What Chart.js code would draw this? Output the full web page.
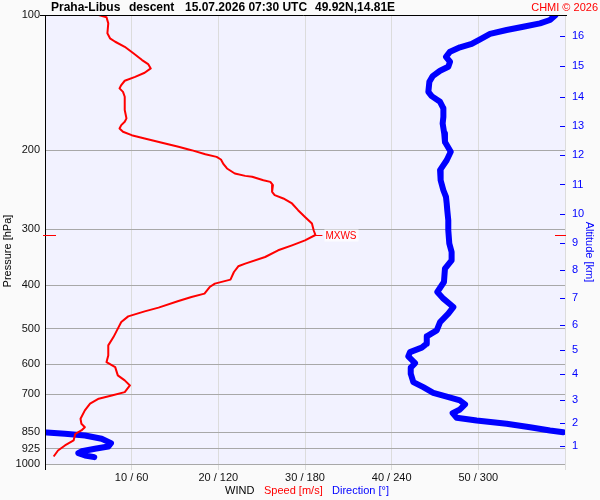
<!DOCTYPE html>
<html><head><meta charset="utf-8">
<script src="https://cdn.jsdelivr.net/npm/chart.js@4/dist/chart.umd.min.js"></script>
<style>html,body{margin:0;padding:0;background:#fafafa;}canvas{display:block;}</style>
</head><body>
<canvas id="c" width="600" height="500"></canvas>
<script>
// ---- data ----
const pressureTicks = [100, 200, 300, 400, 500, 600, 700, 850, 925, 1000];
const speedTicks = [0, 10, 20, 30, 40, 50, 60];
const altitudeKm = [1, 2, 3, 4, 5, 6, 7, 8, 9, 10, 11, 12, 13, 14, 15, 16];
const altitudePressure = [912.8, 811, 719.3, 631.6, 556.5, 489.4, 426.9, 369, 322.4, 277.3, 238.5, 205.2, 176.5, 152.1, 130, 111.4];

const speedPressure = [100, 101.2, 104.4, 109.8, 112.7, 114.7, 117.7, 121.7, 126.0, 128.6, 131.5, 134.5, 137.3, 140.1, 143.2, 145.7, 148.3, 152.1, 162.8, 169.9, 172.9, 175.9, 178.9, 182.0, 185.2, 188.3, 192.6, 196.6, 200, 204.2, 207.0, 209.8, 214.9, 219.7, 225.4, 228.2, 229.3, 233.3, 235.3, 239.3, 247.7, 251.9, 256.2, 262.9, 272.1, 281.7, 291.3, 301.6, 309, 317.6, 325.8, 334.2, 345.9, 357.8, 362.8, 373.6, 388.5, 396.5, 403.5, 417.4, 424.8, 433.5, 448.4, 457.1, 469.0, 482.9, 503.9, 521.6, 544.3, 573.0, 592.9, 608.4, 634.8, 651.3, 668.3, 691.6, 703.5, 715.4, 734.0, 759.7, 792.8, 813.5, 827.9, 842.0, 856.4, 886.3, 909.4, 933.0, 962.3];
const speedValues = [6.2, 7.1, 7.3, 7.2, 7.5, 8.1, 9.2, 10.2, 11.2, 11.9, 12.2, 11.5, 10.4, 9.2, 8.8, 8.6, 9.0, 9.2, 9.2, 9.4, 9.2, 8.8, 8.6, 9.0, 10.0, 11.5, 13.5, 15.4, 16.9, 18.5, 19.8, 20.3, 20.6, 21.0, 21.9, 23.1, 23.9, 25.2, 26.0, 26.3, 26.2, 26.5, 27.5, 28.5, 29.2, 30.0, 30.8, 31.0, 31.2, 30.0, 28.5, 26.9, 25.4, 23.1, 22.3, 21.8, 21.4, 19.6, 19.0, 18.4, 16.9, 15.4, 13.1, 11.5, 9.6, 8.8, 8.3, 7.9, 7.3, 7.3, 7.1, 8.1, 8.4, 9.2, 9.8, 9.2, 7.7, 6.2, 5.2, 4.6, 4.1, 4.2, 4.6, 4.2, 3.5, 3.3, 2.3, 1.5, 1.0];

const dirPressure = [100, 102.6, 104.4, 106.2, 108.0, 110.2, 113.3, 116.0, 118.0, 120.7, 123.9, 127.1, 130.4, 133.1, 136.8, 140.8, 148.3, 151.6, 156.1, 161.4, 168.6, 174.4, 183.6, 191.7, 201.7, 210.6, 221.6, 233.3, 245.6, 254.2, 262.9, 272.1, 286.5, 301.6, 322.8, 337.2, 351.8, 367.1, 393.3, 414.0, 428.3, 447.2, 462.5, 482.9, 503.9, 519.7, 539.5, 550.7, 563.3, 575.9, 596.0, 610.3, 629.4, 657.1, 674.3, 694.0, 706.3, 722.0, 736.9, 756.0, 770.4, 788.9, 799.9, 813.5, 827.9, 842.0, 849.4, 850.5, 856.4, 864.0, 878.6, 898.6, 914.1, 924.9, 936.5, 946.0, 957.2, 965.6];
const dirValues = [353.5, 349.6, 342.7, 331.1, 319.6, 308.1, 301.2, 295.4, 287.3, 280.4, 277.6, 280.4, 279.2, 273.5, 268.4, 266.1, 265.4, 267.7, 273.5, 275.8, 275.8, 275.3, 276.4, 276.9, 280.9, 278.1, 273.5, 273.9, 275.8, 277.6, 278.1, 278.5, 279.2, 279.2, 279.9, 281.5, 281.5, 276.9, 276.2, 271.6, 275.8, 282.7, 279.2, 273.5, 271.2, 264.3, 264.3, 260.8, 252.7, 251.5, 256.2, 253.2, 253.2, 255.0, 261.9, 268.8, 276.9, 287.3, 290.8, 287.3, 282.2, 285.0, 298.8, 319.6, 335.8, 349.6, 358.8, 1.2, 13.8, 27.7, 39.2, 45.7, 43.8, 34.6, 25.4, 23.1, 27.7, 34.1];

// ---- build datasets ----
const RED = '#ff0000', BLUE = '#0000ff';
const FONT = "'Liberation Sans', Arial, sans-serif";
const speedData = speedPressure.map((p, i) => ({x: speedValues[i], y: p}));
// split direction line where it wraps through north
const dirSegments = [[]];
dirPressure.forEach((p, i) => {
  if (i > 0 && Math.abs(dirValues[i] - dirValues[i - 1]) > 180) dirSegments.push([]);
  dirSegments[dirSegments.length - 1].push({x: dirValues[i], y: p});
});
const datasets = [{
  data: speedData, xAxisID: 'x', yAxisID: 'y', showLine: true,
  borderColor: RED, borderWidth: 2, pointRadius: 0, borderJoinStyle: 'round'
}].concat(dirSegments.map(seg => ({
  data: seg, xAxisID: 'x2', yAxisID: 'y', showLine: true,
  borderColor: BLUE, borderWidth: 6, pointRadius: 0,
  borderJoinStyle: 'round', borderCapStyle: 'round'
})));

let maxIdx = 0;
speedValues.forEach((v, i) => { if (v > speedValues[maxIdx]) maxIdx = i; });

const decor = {
  id: 'decor',
  beforeDraw(chart) {
    const {ctx, chartArea: a} = chart;
    ctx.save();
    ctx.fillStyle = '#fafafa';
    ctx.fillRect(0, 0, chart.width, chart.height);
    ctx.fillStyle = '#f2f2ff';
    ctx.fillRect(a.left, a.top, a.right - a.left, a.bottom - a.top);
    ctx.restore();
  },
  afterDraw(chart) {
    const {ctx, chartArea: a, scales} = chart;
    ctx.save();
    // frame lines
    ctx.strokeStyle = '#000'; ctx.lineWidth = 1;
    ctx.beginPath();
    ctx.moveTo(a.left - 5, a.top + 0.5); ctx.lineTo(a.right + 2, a.top + 0.5);
    ctx.moveTo(a.left + 0.5, a.top); ctx.lineTo(a.left + 0.5, a.bottom + 6);
    ctx.stroke();
    // altitude ticks (inside)
    ctx.strokeStyle = BLUE; ctx.lineWidth = 1;
    ctx.beginPath();
    altitudePressure.forEach(p => {
      const y = Math.round(scales.y2.getPixelForValue(p)) + 0.5;
      ctx.moveTo(a.right - 5, y); ctx.lineTo(a.right, y);
    });
    ctx.stroke();
    // MXWS
    const mx = scales.x.getPixelForValue(speedValues[maxIdx]);
    const my = Math.round(scales.y.getPixelForValue(speedPressure[maxIdx])) + 0.5;
    ctx.strokeStyle = RED; ctx.lineWidth = 1;
    ctx.beginPath();
    ctx.moveTo(a.left - 2, my); ctx.lineTo(a.left + 11, my);
    ctx.moveTo(a.right - 10, my); ctx.lineTo(a.right + 1, my);
    ctx.moveTo(mx, my); ctx.lineTo(mx + 7, my);
    ctx.stroke();
    ctx.font = '10px ' + FONT;
    ctx.textBaseline = 'middle'; ctx.textAlign = 'left';
    const tw = ctx.measureText('MXWS').width;
    ctx.fillStyle = '#fbfbff';
    ctx.fillRect(mx + 9, my - 6, tw + 3, 12);
    ctx.fillStyle = RED;
    ctx.fillText('MXWS', mx + 10, my + 1);
    // title
    ctx.textBaseline = 'middle';
    ctx.font = 'bold 12px ' + FONT;
    ctx.fillStyle = '#000';
    ctx.fillText('Praha-Libus', 51, 8);
    ctx.fillText('descent', 129, 8);
    ctx.fillText('15.07.2026 07:30 UTC', 185, 8);
    ctx.fillText('49.92N,14.81E', 315, 8);
    ctx.font = '11px ' + FONT;
    ctx.fillStyle = RED; ctx.textAlign = 'right';
    ctx.fillText('CHMI \u00a9 2026', 598, 8);
    // bottom legend
    ctx.textAlign = 'left';
    ctx.fillStyle = '#000'; ctx.fillText('WIND', 225, 491);
    ctx.fillStyle = RED; ctx.fillText('Speed [m/s]', 264, 491);
    ctx.fillStyle = BLUE; ctx.fillText('Direction [\u00b0]', 332, 491);
    // axis titles
    ctx.textAlign = 'center';
    ctx.save();
    ctx.translate(8, 251); ctx.rotate(-Math.PI / 2);
    ctx.fillStyle = '#000'; ctx.fillText('Pressure [hPa]', 0, 0);
    ctx.restore();
    ctx.save();
    ctx.translate(589, 252); ctx.rotate(Math.PI / 2);
    ctx.fillStyle = BLUE; ctx.fillText('Altitude [km]', 0, 0);
    ctx.restore();
    ctx.restore();
  }
};

new Chart(document.getElementById('c'), {
  type: 'scatter',
  data: {datasets},
  options: {
    responsive: false, animation: false, devicePixelRatio: 1,
    layout: {padding: {top: 15, left: 0, right: 0, bottom: 0}},
    plugins: {legend: {display: false}, tooltip: {enabled: false}},
    scales: {
      x: {
        type: 'linear', position: 'bottom', min: 0, max: 60,
        afterBuildTicks: s => { s.ticks = speedTicks.map(v => ({value: v})); },
        afterFit: s => { s.height = 36; },
        ticks: {
          font: {family: FONT, size: 11}, color: '#111', padding: 1, maxRotation: 0, autoSkip: false,
          callback: v => (v === 0 || v === 60) ? '' : v + ' / ' + (v * 6)
        },
        grid: {color: '#dcdcdc', tickColor: '#dcdcdc', tickLength: 6, lineWidth: 1},
        border: {display: false}
      },
      x2: {type: 'linear', display: false, min: 0, max: 360},
      y: {
        type: 'logarithmic', position: 'left', min: 100, max: 1000, reverse: true,
        afterBuildTicks: s => { s.ticks = pressureTicks.map(v => ({value: v})); },
        afterFit: s => { s.width = 45; },
        ticks: {font: {family: FONT, size: 11}, color: '#111', padding: 5, autoSkip: false,
          callback: v => String(v)},
        grid: {color: '#a8a8a8', drawTicks: false, lineWidth: 1},
        border: {display: false}
      },
      y2: {
        type: 'logarithmic', position: 'right', min: 100, max: 1000, reverse: true,
        afterBuildTicks: s => { s.ticks = altitudePressure.map(v => ({value: v})); },
        afterFit: s => { s.width = 35; },
        ticks: {font: {family: FONT, size: 11}, color: BLUE, padding: 7, autoSkip: false,
          callback: (v, i) => String(altitudeKm[i])},
        grid: {display: false, drawTicks: false},
        border: {display: false}
      }
    }
  },
  plugins: [decor]
});
</script>
</body></html>
